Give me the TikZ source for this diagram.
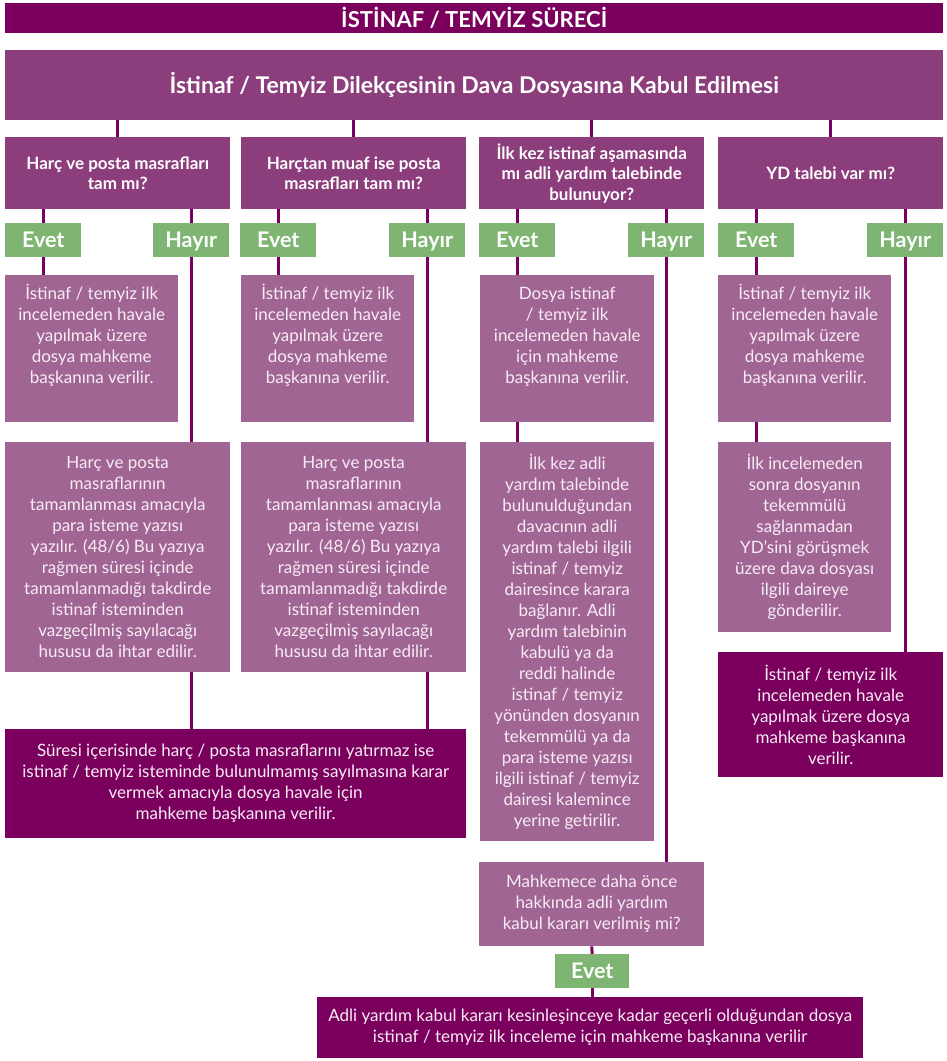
\documentclass[tikz,border=0pt]{standalone}
\usepackage{fontspec}
\setmainfont{Lato}
\usetikzlibrary{positioning}

\definecolor{darkplum}{RGB}{123,0,94}
\definecolor{midplum}{RGB}{140,61,123}
\definecolor{lightplum}{RGB}{160,101,147}
\definecolor{answergreen}{RGB}{126,181,115}
\definecolor{softwhite}{RGB}{248,236,245}

% every box is placed by its top left corner, in pixels of the sheet
\tikzset{
	plumbox/.style={anchor=north west, inner sep=0pt, align=center, text=white},
	titlebox/.style={plumbox, fill=darkplum, font=\fontsize{22}{26}\selectfont\bfseries},
	askbox/.style={plumbox, fill=midplum, font=\fontsize{17}{20.5}\selectfont\bfseries},
	infobox/.style={plumbox, fill=lightplum, text=softwhite, font=\fontsize{17}{21}\selectfont},
	endbox/.style={plumbox, fill=darkplum, text=softwhite, font=\fontsize{17}{21}\selectfont},
	infotext/.style={inner sep=0pt, align=center, text=softwhite, font=\fontsize{17}{21}\selectfont},
	answer/.style={plumbox, fill=answergreen, font=\fontsize{21.5}{24}\selectfont\bfseries,
	  text height=17.5pt, text depth=2.5pt, minimum width=76pt, minimum height=34pt},
	wire/.style={draw=darkplum, line width=3pt},
}

\newcommand{\havaletext}{İstinaf / temyiz ilk\\incelemeden havale\\yapılmak üzere\\dosya mahkeme\\başkanına verilir.}
\newcommand{\harctext}{Harç ve posta\\masraflarının\\tamamlanması amacıyla\\para isteme yazısı\\yazılır. (48/6) Bu yazıya\\rağmen süresi içinde\\tamamlanmadığı takdirde\\istinaf isteminden\\vazgeçilmiş sayılacağı\\hususu da ihtar edilir.}

\begin{document}
\begin{tikzpicture}[x=1pt, y=-1pt]
\useasboundingbox (0,0) rectangle (946,1061);

% title and first step
\node[titlebox, minimum width=938pt, minimum height=30pt] (title) at (5,3) {İSTİNAF / TEMYİZ SÜRECİ};
\node[titlebox, fill=midplum, font=\fontsize{23}{27}\selectfont\bfseries,
  minimum width=938pt, minimum height=70pt] (head) at (5,50)
  {İstinaf / Temyiz Dilekçesinin Dava Dosyasına Kabul Edilmesi};

% the four questions
\def\qy{137}
\node[askbox, minimum width=225pt, minimum height=72pt] (q1) at (5,\qy) {Harç ve posta masrafları\\tam mı?};
\node[askbox, minimum width=225pt, minimum height=72pt] (q2) at (241,\qy) {Harçtan muaf ise posta\\masrafları tam mı?};
\node[askbox, minimum width=225pt, minimum height=72pt] (q3) at (479,\qy) {İlk kez istinaf aşamasında\\mı adli yardım talebinde\\bulunuyor?};
\node[askbox, minimum width=225pt, minimum height=72pt] (q4) at (718,\qy) {YD talebi var mı?};

% answers
\def\ay{223}
\node[answer] (yes1) at (5,\ay) {Evet};
\node[answer] (no1) at (153,\ay) {Hayır};
\node[answer] (yes2) at (240,\ay) {Evet};
\node[answer] (no2) at (389,\ay) {Hayır};
\node[answer] (yes3) at (479,\ay) {Evet};
\node[answer] (no3) at (628,\ay) {Hayır};
\node[answer] (yes4) at (718,\ay) {Evet};
\node[answer] (no4) at (867,\ay) {Hayır};

% boxes under Evet, text kept at the top (base = last line)
\def\ry{275}
\node[infobox, minimum width=173pt, minimum height=147pt] (r1) at (5,\ry) {};
\node[infobox, minimum width=173pt, minimum height=147pt] (r2) at (241,\ry) {};
\node[infobox, minimum width=174pt, minimum height=147pt] (r3) at (480,\ry) {};
\node[infobox, minimum width=173pt, minimum height=147pt] (r4) at (718,\ry) {};
\node[infotext, anchor=base] (r1t) at ([yshift=-108pt]r1.north) {\havaletext};
\node[infotext, anchor=base] (r2t) at ([yshift=-108pt]r2.north) {\havaletext};
\node[infotext, anchor=base] (r3t) at ([yshift=-108pt]r3.north) {Dosya istinaf\\/ temyiz ilk\\incelemeden havale\\için mahkeme\\başkanına verilir.};
\node[infotext, anchor=base] (r4t) at ([yshift=-108pt]r4.north) {\havaletext};

% second row
\def\hy{442}
\node[infobox, minimum width=225pt, minimum height=230pt] (h1) at (5,\hy) {\harctext};
\node[infobox, minimum width=225pt, minimum height=230pt] (h2) at (241,\hy) {\harctext};
\node[infobox, minimum width=174pt, minimum height=399pt] (k3) at (480,\hy)
  {İlk kez adli\\yardım talebinde\\bulunulduğundan\\davacının adli\\yardım talebi ilgili\\istinaf / temyiz\\dairesince karara\\bağlanır. Adli\\yardım talebinin\\kabulü ya da\\reddi halinde\\istinaf / temyiz\\yönünden dosyanın\\tekemmülü ya da\\para isteme yazısı\\ilgili istinaf / temyiz\\dairesi kalemince\\yerine getirilir.};
\node[infobox, minimum width=173pt, minimum height=190pt] (k4) at (718,\hy)
  {İlk incelemeden\\sonra dosyanın\\tekemmülü\\sağlanmadan\\YD’sini görüşmek\\üzere dava dosyası\\ilgili daireye\\gönderilir.};
\node[endbox, minimum width=225pt, minimum height=125pt] (d4) at (718,652)
  {İstinaf / temyiz ilk\\incelemeden havale\\yapılmak üzere dosya\\mahkeme başkanına\\verilir.};

% results
\node[endbox, minimum width=461pt, minimum height=109pt] (s1) at (5,729)
  {Süresi içerisinde harç / posta masraflarını yatırmaz ise\\istinaf / temyiz isteminde bulunulmamış sayılmasına karar\\vermek amacıyla dosya havale için\\mahkeme başkanına verilir.};
\node[infobox, minimum width=225pt, minimum height=84pt] (m3) at (479,862)
  {Mahkemece daha önce\\hakkında adli yardım\\kabul kararı verilmiş mi?};
\node[answer, minimum width=74pt] (yes5) at (555,954) {Evet};
\node[endbox, minimum width=546pt, minimum height=61pt] (final) at (317,997)
  {Adli yardım kabul kararı kesinleşinceye kadar geçerli olduğundan dosya\\istinaf / temyiz ilk inceleme için mahkeme başkanına verilir};

% connectors
\foreach \q in {q1,q2,q3,q4}
	\draw[wire] (\q.north |- head.south) -- (\q.north);
\foreach \q/\y/\n in {q1/yes1/no1, q2/yes2/no2, q3/yes3/no3, q4/yes4/no4} {
	\draw[wire] (\y.north |- \q.south) -- (\y.north);
	\draw[wire] (\n.north |- \q.south) -- (\n.north);
}
\foreach \y/\r in {yes1/r1, yes2/r2, yes3/r3, yes4/r4}
	\draw[wire] (\y.south) -- (\y.south |- \r.north);
\draw[wire] (no1.south) -- (no1.south |- h1.north);
\draw[wire] (no2.south) -- (no2.south |- h2.north);
\draw[wire] (no1.south |- h1.south) -- (no1.south |- s1.north);
\draw[wire] (no2.south |- h2.south) -- (no2.south |- s1.north);
\draw[wire] (yes3.south |- r3.south) -- (yes3.south |- k3.north);
\draw[wire] (yes4.south |- r4.south) -- (yes4.south |- k4.north);
\draw[wire] (no3.south) -- (no3.south |- m3.north);
\draw[wire] (no4.south) -- (no4.south |- d4.north);
\draw[wire] (m3.south) -- (yes5.north);
\draw[wire] (yes5.south) -- (yes5.south |- final.north);
\end{tikzpicture}
\end{document}
